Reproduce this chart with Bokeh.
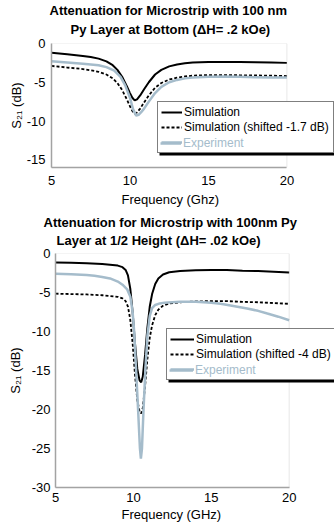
from bokeh.plotting import figure
from bokeh.models import (Range1d, Legend, LegendItem, Title, BoxAnnotation, FixedTicker)
from bokeh.layouts import column
from bokeh.embed import file_html
from bokeh.resources import INLINE

FONT = "Liberation Sans"
EXP_COLOR = "#a5bccb"
AXIS_GRAY = "#a0a0a0"
BOX_GRAY = "#b4b4b4"

# ---------------- top chart data ----------------
top_title_1 = "Attenuation for Microstrip with 100 nm"
top_title_2 = "Py Layer at Bottom (\u0394H= .2 kOe)"
top_xlabel = "Frequency (Ghz)"
top_shift_label = "Simulation (shifted -1.7 dB)"
top_x_ticks = [5, 10, 15, 20]
top_y_ticks = [0, -5, -10, -15]
top_y_tick_labels = ["0", "-5", "-10", "-15"]

top_freq_sim = [5.0, 6.0, 7.0, 7.5, 8.0, 8.5, 8.9, 9.2, 9.5, 9.8, 10.0, 10.15, 10.3, 10.45,
                10.65, 10.9, 11.2, 11.6, 12.0, 12.5, 13.0, 13.5, 14.0, 15.0, 16.0, 17.0,
                18.0, 19.0, 20.0]
top_sim = [-1.2, -1.4, -1.6, -1.75, -1.95, -2.3, -2.8, -3.4, -4.3, -5.5, -6.4, -7.0, -7.35,
           -7.2, -6.7, -5.9, -5.0, -4.0, -3.4, -2.95, -2.7, -2.55, -2.45, -2.38, -2.38,
           -2.4, -2.42, -2.45, -2.5]
top_sim_shifted = [-2.9, -3.1, -3.3, -3.45, -3.65, -4.0, -4.5, -5.1, -6.0, -7.2, -8.1, -8.7,
                   -9.05, -8.9, -8.4, -7.6, -6.7, -5.7, -5.1, -4.65, -4.4, -4.25, -4.15,
                   -4.08, -4.08, -4.1, -4.12, -4.15, -4.2]
top_freq_exp = [5.0, 6.0, 7.0, 8.0, 8.5, 9.0, 9.4, 9.7, 10.0, 10.2, 10.4, 10.55, 10.7, 10.9,
                11.2, 11.6, 12.0, 12.5, 13.0, 13.5, 14.0, 15.0, 16.0, 17.0, 18.0, 19.0, 20.0]
top_exp = [-2.3, -2.45, -2.6, -2.8, -3.05, -3.5, -4.3, -5.4, -7.0, -8.5, -9.3, -9.2, -8.9,
           -8.4, -7.5, -6.4, -5.6, -5.0, -4.7, -4.5, -4.4, -4.3, -4.25, -4.3, -4.35, -4.4,
           -4.4]

# ---------------- bottom chart data ----------------
bot_title_1 = "Attenuation for Microstrip with 100nm Py"
bot_title_2 = "Layer at 1/2 Height (\u0394H= .02 kOe)"
bot_xlabel = "Frequency (GHz)"
bot_shift_label = "Simulation (shifted -4 dB)"
bot_x_ticks = [5, 10, 15, 20]
bot_y_ticks = [0, -5, -10, -15, -20, -25, -30]
bot_y_tick_labels = ["0", "-5", "-10", "-15", "-20", "-25", "-30"]

bot_freq_sim = [5.0, 6.0, 7.0, 8.0, 8.5, 9.0, 9.3, 9.5, 9.65, 9.8, 9.95, 10.1, 10.25, 10.4,
                10.5, 10.6, 10.75, 10.9, 11.05, 11.2, 11.4, 11.6, 11.9, 12.3, 13.0, 14.0,
                15.0, 16.0, 17.0, 18.0, 19.0, 20.0]
bot_sim = [-1.15, -1.2, -1.25, -1.35, -1.45, -1.55, -1.75, -2.1, -2.8, -4.5, -7.5, -11.5,
           -14.8, -16.3, -16.5, -15.8, -13.0, -9.5, -6.8, -5.2, -3.9, -3.2, -2.7, -2.4,
           -2.25, -2.15, -2.1, -2.1, -2.2, -2.25, -2.35, -2.45]
bot_sim_shifted = [-5.15, -5.2, -5.25, -5.35, -5.45, -5.55, -5.75, -6.1, -6.8, -8.5, -11.5,
                   -15.5, -18.8, -20.3, -20.5, -19.8, -17.0, -13.5, -10.8, -9.2, -7.9, -7.2,
                   -6.7, -6.4, -6.25, -6.15, -6.1, -6.1, -6.2, -6.25, -6.35, -6.45]
bot_freq_exp = [5.0, 6.0, 7.0, 7.5, 8.0, 8.5, 9.0, 9.3, 9.6, 9.8, 9.95, 10.05, 10.15, 10.3,
                10.42, 10.48, 10.55, 10.65, 10.78, 10.9, 11.05, 11.2, 11.4, 11.7, 12.0, 13.0,
                14.0, 15.0, 15.6, 16.5, 17.3, 18.0, 18.6, 19.3, 20.0]
bot_exp = [-2.6, -2.65, -2.75, -2.85, -3.0, -3.2, -3.6, -4.0, -4.6, -5.5, -7.5, -10.0, -14.0,
           -20.0, -25.0, -26.3, -25.0, -20.0, -14.5, -10.5, -8.0, -7.0, -6.6, -6.4, -6.3,
           -6.2, -6.2, -6.3, -6.45, -6.75, -7.05, -7.35, -7.7, -8.1, -8.55]

FIG_W = 334
X_MIN, X_MAX = 5, 20


def make_chart(height, border_left, border_top, border_bottom, box_w, y_min,
               x_ticks, y_ticks, y_tick_labels, xlabel, xlabel_offset, xlabel_standoff,
               titles, title_offsets, title_standoffs,
               fs, s, ss, fe, e, shift_label, leg_loc, glyph_w, label_w,
               ystand, xstand):
    # frame runs to the right edge of the canvas so the legend may overhang the plot box
    frame_w = FIG_W - border_left
    x_end = X_MIN + (X_MAX - X_MIN) * frame_w / box_w
    p = figure(width=FIG_W, height=height, output_backend="svg", toolbar_location=None,
               x_range=Range1d(X_MIN, x_end), y_range=Range1d(y_min, 0), title=None,
               min_border_left=border_left, min_border_right=0,
               min_border_top=border_top, min_border_bottom=border_bottom)
    try:
        p.frame_align = False
    except Exception:
        pass
    p.background_fill_color = "white"
    p.border_fill_color = "white"
    p.outline_line_color = None
    p.xgrid.visible = False
    p.ygrid.visible = False

    p.xaxis.ticker = FixedTicker(ticks=x_ticks)
    p.yaxis.ticker = FixedTicker(ticks=y_ticks)
    p.yaxis.major_label_overrides = {t: l for t, l in zip(y_ticks, y_tick_labels)}
    p.xaxis.bounds = (X_MIN, X_MAX)
    p.yaxis.bounds = (y_min, 0)
    for ax in (p.xaxis, p.yaxis):
        ax.axis_line_color = AXIS_GRAY
        ax.axis_line_width = 1.5
        ax.major_tick_line_color = None
        ax.minor_tick_line_color = None
        ax.major_tick_in = 0
        ax.major_tick_out = 0
        ax.minor_tick_in = 0
        ax.minor_tick_out = 0
        ax.major_label_text_font = FONT
        ax.major_label_text_font_size = "13px"
        ax.major_label_text_color = "black"
        ax.axis_label_text_font = FONT
        ax.axis_label_text_font_size = "13px"
        ax.axis_label_text_font_style = "normal"
        ax.axis_label_text_color = "black"
    p.yaxis.axis_label = "S\u2082\u2081 (dB)"
    p.yaxis.major_label_standoff = ystand[0]
    p.yaxis.axis_label_standoff = ystand[1]
    p.xaxis.major_label_standoff = xstand

    # plot-area box (top and right edges)
    p.add_layout(BoxAnnotation(left=X_MIN, right=X_MAX, bottom=y_min, top=0,
                               fill_alpha=0, line_color=BOX_GRAY, line_width=1))

    r_sim = p.line(fs, s, line_color="black", line_width=2)
    r_shift = p.line(fs, ss, line_color="black", line_width=1.8, line_dash="3 2")
    r_exp = p.line(fe, e, line_color=EXP_COLOR, line_width=2.5)

    # two title lines: second line nearest to the plot, added first
    p.add_layout(Title(text=titles[1], align="left", offset=title_offsets[1],
                       vertical_align="top", standoff=title_standoffs[1],
                       text_font=FONT, text_font_size="13px", text_font_style="bold",
                       text_color="black"), "above")
    p.add_layout(Title(text=titles[0], align="left", offset=title_offsets[0],
                       vertical_align="bottom", standoff=title_standoffs[0],
                       text_font=FONT, text_font_size="13px", text_font_style="bold",
                       text_color="black"), "above")
    # x axis label (placed under the plot box rather than the wider frame)
    p.add_layout(Title(text=xlabel, align="left", offset=xlabel_offset,
                       vertical_align="top", standoff=xlabel_standoff,
                       text_font=FONT, text_font_size="13px", text_font_style="normal",
                       text_color="black"), "below")

    pad = 3
    row_h = 14
    spacing = 1
    standoff = 2
    W = 2 * pad + glyph_w + standoff + label_w
    H = 2 * pad + 3 * row_h + 2 * spacing
    lx, ly = leg_loc
    p.add_layout(BoxAnnotation(left=lx + 2, right=lx + W + 2, bottom=ly - 2, top=ly + H - 2,
                               left_units="screen", right_units="screen",
                               bottom_units="screen", top_units="screen",
                               fill_color="black", fill_alpha=1, line_alpha=0))

    common = dict(location=leg_loc, padding=pad, spacing=spacing, margin=0,
                  glyph_width=glyph_w, glyph_height=row_h, label_height=row_h,
                  label_standoff=standoff, label_text_font=FONT,
                  label_text_font_size="12px", orientation="vertical")
    main = Legend(items=[LegendItem(label="Simulation", renderers=[r_sim]),
                         LegendItem(label=shift_label, renderers=[r_shift]),
                         LegendItem(label=" ", renderers=[r_exp])],
                  label_width=label_w, label_text_color="black",
                  border_line_color="black", border_line_width=1,
                  background_fill_color="white", background_fill_alpha=1, **common)
    over = Legend(items=[LegendItem(label="Experiment", renderers=[r_exp])],
                  label_width=10, label_text_color=EXP_COLOR,
                  border_line_alpha=0, background_fill_alpha=0, **common)
    p.add_layout(main)
    p.add_layout(over)
    return p


p1 = make_chart(212, 51, 43, 45, 235.4, -16, top_x_ticks, top_y_ticks, top_y_tick_labels,
                top_xlabel, 70, 8, [top_title_1, top_title_2], [-2, 19], [0, 9],
                top_freq_sim, top_sim, top_sim_shifted, top_freq_exp, top_exp,
                top_shift_label, (106, 14), 21, 146, (6, 0), 8)
p2 = make_chart(315, 55, 41, 40, 233.7, -30, bot_x_ticks, bot_y_ticks, bot_y_tick_labels,
                bot_xlabel, 66, 4, [bot_title_1, bot_title_2], [-12, 1], [0, 7],
                bot_freq_sim, bot_sim, bot_sim_shifted, bot_freq_exp, bot_exp,
                bot_shift_label, (111, 107), 24, 135, (5, 6), 5)

layout = column(p1, p2, spacing=0)
open("out.html", "w").write(file_html(layout, INLINE))
